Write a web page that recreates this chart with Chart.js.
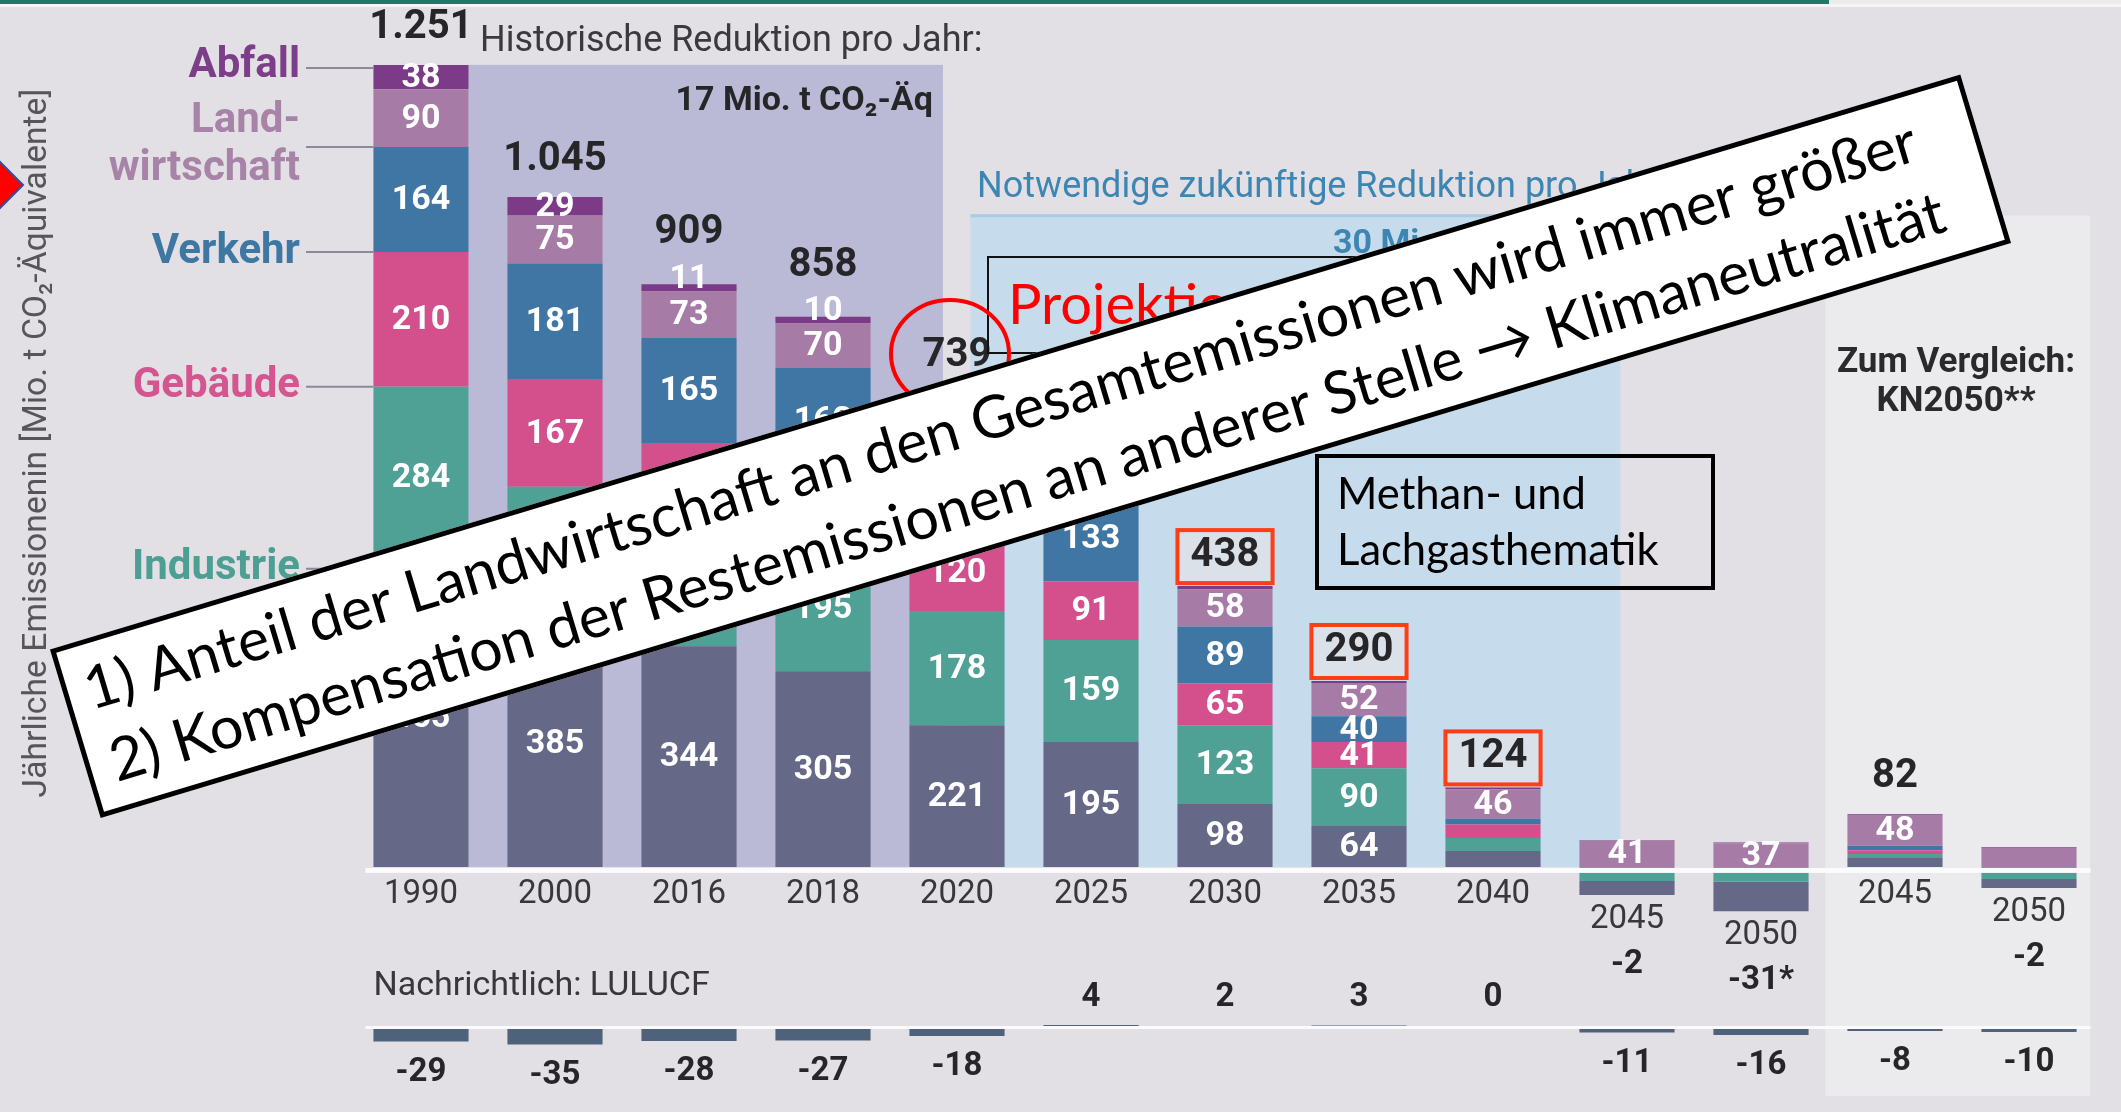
<!DOCTYPE html>
<html lang="de">
<head>
<meta charset="utf-8">
<title>Treibhausgasemissionen nach Sektoren</title>
<script src="https://cdn.jsdelivr.net/npm/chart.js@4.4.1/dist/chart.umd.min.js"></script>
<style>
  html, body { margin: 0; padding: 0; background: #e2dfe5; }
  #wrap { width: 2121px; height: 1112px; }
</style>
</head>
<body>
<div id="wrap"><canvas id="chart" width="2121" height="1112"></canvas></div>
<script>
// Jährliche Emissionen je Sektor in Mio. t CO2-Äq
const years = ['1990', '2000', '2016', '2018', '2020', '2025', '2030', '2035', '2040', '2045', '2050', '2045', '2050'];
const energie        = [465, 385, 344, 305, 221, 195,  98, 64, 25, -22, -46, 15, -14];
const industrie      = [284, 208, 188, 195, 178, 159, 123, 90, 20, -22, -23,  5, -19];
const gebaeude       = [210, 167, 128, 116, 120,  91,  65, 41, 21,   0,   0,  6,   0];
const verkehr        = [164, 181, 165, 162, 146, 133,  89, 40,  9,   0,   0,  7,   0];
const landwirtschaft = [ 90,  75,  73,  70,  65,  61,  58, 52, 46,  41,  37, 48,  30];
const abfall         = [ 38,  29,  11,  10,   9,   7,   5,  3,  3,   1,   1,  1,   1];
const totals         = [1251, 1045, 909, 858, 739, 646, 438, 290, 124, -2, -31, 82, -2];
const totalNotes     = ['', '', '', '', '', '', '', '', '', '', '*', '', ''];
const lulucf         = [-29, -35, -28, -27, -18, 4, 2, 3, 0, -11, -16, -8, -10];

const C = {
  energie: '#656886',
  industrie: '#4fa095',
  gebaeude: '#d3508d',
  verkehr: '#3f76a4',
  landwirtschaft: '#a67ca6',
  abfall: '#7b3b86',
  lulucf: '#4f627b'
};

const F = 'Roboto, "Noto Sans", sans-serif';
const F2 = 'Lato, Carlito, Calibri, "Open Sans", sans-serif';

// negative Energiewirtschaft sits below Industrie, so it gets its own dataset
const energiePos = energie.map(v => v > 0 ? v : null);
const energieNeg = energie.map(v => v < 0 ? v : null);

function fmt(v) {
  const s = String(Math.abs(v)).replace(/\B(?=(\d{3})+(?!\d))/g, '.');
  return (v < 0 ? '-' : '') + s;
}

function txt(ctx, s, x, y, font, color, align, base) {
  ctx.font = font;
  ctx.fillStyle = color;
  ctx.textAlign = align || 'center';
  ctx.textBaseline = base || 'middle';
  ctx.fillText(s, x, y);
}

function fitSize(ctx, s, weight, family, width) {
  ctx.font = weight + ' 100px ' + family;
  return 100 * width / ctx.measureText(s).width;
}

function geom(chart) {
  const xs = chart.scales.x;
  const out = [];
  const wEl = chart.getDatasetMeta(5).data[0];
  for (let i = 0; i < years.length; i++) {
    let top = Infinity, negBottom = -Infinity;
    chart.data.datasets.forEach((ds, di) => {
      if (ds.yAxisID === 'y2') return;
      const v = ds.data[i];
      if (v == null || v === 0) return;
      const el = chart.getDatasetMeta(di).data[i];
      if (v > 0) top = Math.min(top, el.y, el.base);
      else negBottom = Math.max(negBottom, el.y, el.base);
    });
    out.push({ x: xs.getPixelForValue(i), w: wEl.width, top: top, negBottom: negBottom });
  }
  return out;
}

const boxedTotals = [6, 7, 8];

const infografik = {
  id: 'infografik',
  beforeDraw(chart) {
    const ctx = chart.ctx;
    ctx.save();
    ctx.fillStyle = '#e2dfe5';
    ctx.fillRect(0, 0, chart.width, chart.height);
    ctx.fillStyle = '#1d7a67';
    ctx.fillRect(0, 0, 1829, 4);
    ctx.fillStyle = '#ebebec';
    ctx.fillRect(1829, 0, chart.width - 1829, 4);
    ctx.fillStyle = '#f5f4f7';
    ctx.fillRect(0, 4, chart.width, 3);
    ctx.restore();
  },
  beforeDatasetsDraw(chart) {
    const ctx = chart.ctx;
    const xs = chart.scales.x, ys = chart.scales.y;
    const c = i => xs.getPixelForValue(i);
    const w = c(1) - c(0);
    const y0 = ys.getPixelForValue(0);
    const g = geom(chart);
    ctx.save();
    // historische Reduktion
    const hl = c(0) + 0.355 * w, hr = c(4) - 0.105 * w;
    ctx.fillStyle = '#bab9d6';
    ctx.fillRect(hl, g[0].top, hr - hl, y0 - g[0].top);
    // notwendige zukünftige Reduktion
    const bl = c(4) + 0.1 * w, br = c(9) - 0.05 * w, bt = ys.getPixelForValue(1018);
    ctx.fillStyle = '#c6dcec';
    ctx.fillRect(bl, bt, br - bl, y0 - bt);
    ctx.fillStyle = '#a9cbe3';
    ctx.fillRect(bl, bt, br - bl, 3);
    // Zum Vergleich
    const kl = c(11) - 0.52 * w, kr = c(12) + 0.455 * w, kt = ys.getPixelForValue(1016);
    ctx.fillStyle = '#ebebed';
    ctx.fillRect(kl, kt, kr - kl, chart.chartArea.bottom - 4 - kt);
    ctx.restore();
  },
  afterDatasetsDraw(chart) {
    const ctx = chart.ctx;
    const xs = chart.scales.x, ys = chart.scales.y, y2 = chart.scales.y2;
    const y0 = ys.getPixelForValue(0);
    const z0 = y2.getPixelForValue(0);
    const g = geom(chart);
    const half = g[0].w / 2;
    const lineL = g[0].x - half - 8, lineR = g[years.length - 1].x + half + 14;
    ctx.save();

    // weiße Nulllinien
    ctx.fillStyle = '#fbfbfd';
    ctx.fillRect(lineL, y0 + 1, lineR - lineL, 5);
    ctx.fillRect(lineL, z0 - 1, lineR - lineL, 3);

    // Segmentbeschriftungen
    const segFont = 'bold 34px ' + F;
    chart.data.datasets.forEach((ds, di) => {
      if (ds.yAxisID === 'y2') return;
      const isAbfall = ds.label === 'Abfall';
      ds.data.forEach((v, i) => {
        if (v == null) return;
        if (!(v >= 35 || (isAbfall && v >= 10))) return;
        const el = chart.getDatasetMeta(di).data[i];
        const a = Math.min(el.y, el.base), b = Math.max(el.y, el.base);
        const yy = (b - a) < 15 ? a - 6 : (a + b) / 2;
        txt(ctx, String(v), el.x, yy + 1, segFont, '#ffffff');
      });
    });

    // Summen
    const totFont = 'bold 40px ' + F;
    totals.forEach((t, i) => {
      if (t <= 0) return;
      const ab = chart.getDatasetMeta(6).data[i];
      const abH = Math.abs(ab.base - ab.y);
      let off = 37;
      if (abfall[i] >= 10 && abH < 15) off = 51;
      if (boxedTotals.includes(i)) off = 30;
      const ty = g[i].top - off;
      if (boxedTotals.includes(i)) {
        ctx.fillStyle = '#dbe1e8';
        ctx.fillRect(g[i].x - half, ty - 26, g[i].w, 53);
        ctx.lineWidth = 4;
        ctx.strokeStyle = '#ff3d17';
        ctx.strokeRect(g[i].x - half, ty - 26, g[i].w, 53);
      }
      txt(ctx, fmt(t) + totalNotes[i], g[i].x, ty, totFont, '#262628');
    });

    // Jahreszahlen und negative Summen
    years.forEach((yr, i) => {
      let ly = y0 + 28;
      if (isFinite(g[i].negBottom)) ly = g[i].negBottom + 25;
      txt(ctx, yr, g[i].x, ly, '33px ' + F, '#38383c');
      if (totals[i] <= 0) {
        txt(ctx, fmt(totals[i]) + totalNotes[i], g[i].x, ly + 45, 'bold 33px ' + F, '#262628');
      }
    });

    // LULUCF
    txt(ctx, 'Nachrichtlich: LULUCF', g[0].x - half, z0 - 41, '34px ' + F, '#38383c', 'left');
    const lm = chart.getDatasetMeta(7);
    lulucf.forEach((v, i) => {
      const el = lm.data[i];
      const ly = v < 0 ? Math.max(el.y, el.base) + 31 : z0 - 29;
      txt(ctx, fmt(v), el.x, ly, 'bold 33px ' + F, '#262628');
    });

    // Texte über den Bereichen
    const c = k => xs.getPixelForValue(k);
    const w = c(1) - c(0);
    txt(ctx, 'Historische Reduktion pro Jahr:', c(0) + 0.44 * w, 42, '36px ' + F, '#3a3a3e', 'left');
    txt(ctx, '17 Mio. t CO\u2082-\u00c4q', c(4) - 0.18 * w, 101, 'bold 34px ' + F, '#262628', 'right');
    txt(ctx, 'Notwendige zukünftige Reduktion pro Jahr:', c(4) + 0.15 * w, 188, '36px ' + F, '#3d86b3', 'left');
    txt(ctx, '30 Mio. t CO\u2082-\u00c4q', 1333, 244, 'bold 34px ' + F, '#3d86b3', 'left');
    txt(ctx, 'Zum Vergleich:', 1956, 363, 'bold 35px ' + F, '#2a2a2c');
    txt(ctx, 'KN2050**', 1956, 402, 'bold 35px ' + F, '#2a2a2c');

    // Sektorlegende links (an der 1990er Säule)
    const m = di => chart.getDatasetMeta(di).data[0];
    const barLeft = g[0].x - half;
    const legend = [
      { lines: ['Abfall'], color: '#7d3e89', y: m(6).y + 3, dy: -1 },
      { lines: ['Land-', 'wirtschaft'], color: '#a783a7', y: m(5).base, dy: 0 },
      { lines: ['Verkehr'], color: '#3f77a3', y: m(4).base, dy: 0 },
      { lines: ['Gebäude'], color: '#d4558f', y: m(3).base, dy: 0 },
      { lines: ['Industrie'], color: '#4d9f93', y: m(1).base, dy: 0 }
    ];
    ctx.strokeStyle = '#8b8a98';
    ctx.lineWidth = 2;
    const legFont = 'bold 42px ' + F;
    legend.forEach(l => {
      ctx.beginPath();
      ctx.moveTo(306, l.y);
      ctx.lineTo(barLeft, l.y);
      ctx.stroke();
      if (l.lines.length === 1) {
        txt(ctx, l.lines[0], 300, l.y + l.dy, legFont, l.color, 'right');
      } else {
        txt(ctx, l.lines[0], 300, l.y - 25, legFont, l.color, 'right');
        txt(ctx, l.lines[1], 300, l.y + 23, legFont, l.color, 'right');
      }
    });

    // Achsentitel
    ctx.save();
    ctx.translate(38, 443);
    ctx.rotate(-Math.PI / 2);
    const title = 'Jährliche Emissionenin [Mio. t CO\u2082-\u00c4quivalente]';
    const ts = fitSize(ctx, title, 'normal', F, 710);
    txt(ctx, title, 0, 0, ts.toFixed(1) + 'px ' + F, '#55555a');
    ctx.restore();

    ctx.restore();
  },
  afterDraw(chart) {
    const ctx = chart.ctx;
    const g = geom(chart);
    ctx.save();

    // rote Markierung am linken Rand
    ctx.beginPath();
    ctx.moveTo(-2, 160);
    ctx.lineTo(23, 185);
    ctx.lineTo(-2, 210);
    ctx.closePath();
    ctx.fillStyle = '#ff0000';
    ctx.fill();
    ctx.strokeStyle = '#2f4f9f';
    ctx.lineWidth = 2;
    ctx.stroke();

    // Projektion
    ctx.strokeStyle = '#111';
    ctx.lineWidth = 2;
    ctx.strokeRect(988, 257, 382, 96);
    txt(ctx, 'Projektion', 1008, 306, '56px ' + F2, '#ff0000', 'left');

    // Kreis um 739
    ctx.beginPath();
    ctx.ellipse(g[4].x - 7, 354, 59, 54, 0, 0, Math.PI * 2);
    ctx.strokeStyle = '#ff0000';
    ctx.lineWidth = 4;
    ctx.stroke();

    // Methan- und Lachgasthematik
    ctx.strokeStyle = '#000';
    ctx.lineWidth = 4;
    ctx.strokeRect(1317, 456, 396, 132);
    const ms = fitSize(ctx, 'Lachgasthematik', 'normal', F2, 322);
    txt(ctx, 'Methan- und', 1337, 495, ms.toFixed(1) + 'px ' + F2, '#000', 'left');
    txt(ctx, 'Lachgasthematik', 1337, 551, ms.toFixed(1) + 'px ' + F2, '#000', 'left');

    // gedrehter Hinweiskasten
    const l1 = '1) Anteil der Landwirtschaft an den Gesamtemissionen wird immer größer';
    const l2 = '2) Kompensation der Restemissionen an anderer Stelle \u2192 Klimaneutralität';
    const bw = 1995, bh = 176;
    ctx.translate(1030.5, 446.25);
    ctx.rotate(-16.75 * Math.PI / 180);
    ctx.fillStyle = '#ffffff';
    ctx.fillRect(-bw / 2, -bh / 2, bw, bh);
    ctx.strokeStyle = '#000';
    ctx.lineWidth = 5;
    ctx.strokeRect(-bw / 2 + 2.5, -bh / 2 + 2.5, bw - 5, bh - 5);
    const fs = Math.min(fitSize(ctx, l1, 'normal', F2, 1912), fitSize(ctx, l2, 'normal', F2, 1918));
    txt(ctx, l1, -bw / 2 + 22, -38 + 0.34 * fs, fs.toFixed(1) + 'px ' + F2, '#000', 'left', 'alphabetic');
    txt(ctx, l2, -bw / 2 + 26, 38 + 0.34 * fs, fs.toFixed(1) + 'px ' + F2, '#000', 'left', 'alphabetic');

    ctx.restore();
  }
};

const sectorSets = [
  { label: 'Energiewirtschaft', data: energiePos, backgroundColor: C.energie },
  { label: 'Industrie', data: industrie, backgroundColor: C.industrie },
  { label: 'Energiewirtschaft (negativ)', data: energieNeg, backgroundColor: C.energie },
  { label: 'Gebäude', data: gebaeude, backgroundColor: C.gebaeude },
  { label: 'Verkehr', data: verkehr, backgroundColor: C.verkehr },
  { label: 'Landwirtschaft', data: landwirtschaft, backgroundColor: C.landwirtschaft },
  { label: 'Abfall', data: abfall, backgroundColor: C.abfall },
  { label: 'LULUCF', data: lulucf, backgroundColor: C.lulucf, yAxisID: 'y2' }
];

new Chart(document.getElementById('chart').getContext('2d'), {
  type: 'bar',
  data: { labels: years, datasets: sectorSets },
  options: {
    responsive: false,
    animation: false,
    devicePixelRatio: 1,
    layout: { padding: { left: 354, right: 25, top: 20, bottom: 12 } },
    datasets: { bar: { barPercentage: 0.71, categoryPercentage: 1, borderWidth: 0 } },
    plugins: { legend: { display: false }, tooltip: { enabled: false } },
    scales: {
      x: { type: 'category', stacked: true, display: false, offset: true },
      y: { stacked: true, min: -192, max: 1321, display: false, position: 'right', stack: 'rows', stackWeight: 970 },
      y2: { stacked: true, min: -146, max: 74, display: false, position: 'right', stack: 'rows', stackWeight: 110 }
    }
  },
  plugins: [infografik]
});
</script>
</body>
</html>
